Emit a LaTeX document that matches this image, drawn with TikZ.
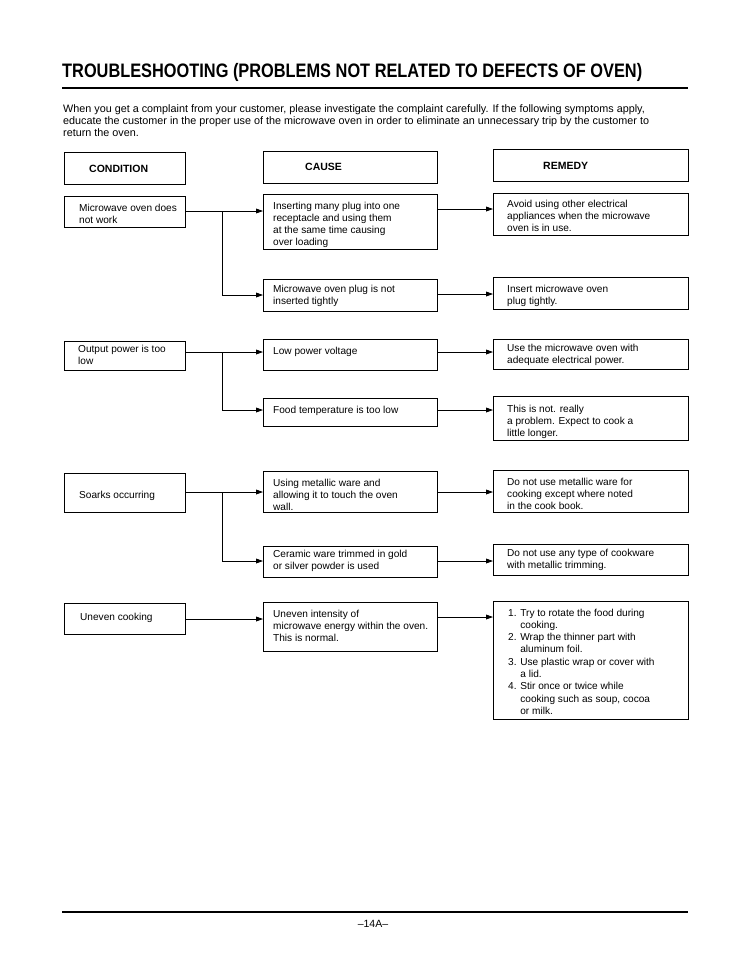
\documentclass[tikz,border=0pt]{standalone}
\usepackage{fontspec}
\usepackage{graphicx}
\setmainfont{Liberation Sans}
\usetikzlibrary{arrows.meta}
\newcommand{\bx}[5]{\node[box, minimum width=#4pt, minimum height=#5pt] (#1) at (#2,#3) {};}
\begin{document}
\begin{tikzpicture}[x=1pt,y=-1pt,
  box/.style={draw, line width=0.9pt, anchor=north west, inner sep=0pt, outer sep=0pt},
  txt/.style={anchor=north west, inner sep=0pt, align=left, font=\fontsize{10.1}{12.3}\selectfont},
  hdr/.style={anchor=west, inner sep=0pt, font=\fontsize{10.5}{12}\selectfont\bfseries},
  conn/.style={line width=0.8pt},
  arr/.style={conn, -{Triangle[length=7pt,width=4.8pt]}}]
\useasboundingbox[fill=white] (0,0) rectangle (750,970);

% title and rules
\node[anchor=base west, inner sep=0pt] (title) at (62,77)
  {\resizebox{580pt}{\height}{\fontsize{19.5}{20}\selectfont\bfseries TROUBLESHOOTING (PROBLEMS NOT RELATED TO DEFECTS OF OVEN)}};
\coordinate (r1a) at (62,88); \coordinate (r1b) at (688,88);
\draw[line width=2pt] (r1a) -- (r1b);
\node[anchor=north west, inner sep=0pt, align=left, font=\fontsize{10.8}{12}\selectfont] (intro) at (63,104)
  {When you get a complaint from your customer, please investigate the complaint carefully. If the following symptoms apply,\\
   educate the customer in the proper use of the microwave oven in order to eliminate an unnecessary trip by the customer to\\
   return the oven.};

% headers
\bx{hcond}{64}{152}{121}{32}
\bx{hcause}{263}{151}{174}{32}
\bx{hrem}{493}{149}{195}{32}
\node[hdr] (hcondt) at (89,169) {CONDITION};
\node[hdr] (hcauset) at (305,167) {CAUSE};
\node[hdr] (hremt) at (543,166) {REMEDY};

% row 1
\bx{cond1}{64}{196}{121}{31}
\bx{cause1}{263}{194}{174}{55}
\bx{rem1}{493}{193}{195}{42}
\bx{cause2}{263}{279}{174}{32}
\bx{rem2}{493}{277}{195}{32}
\node[txt] (cond1t) at (79,203.5) {Microwave oven does\\not work};
\node[txt] (cause1t) at (273,201.5) {Inserting many plug into one\\receptacle and using them\\at the same time causing\\over loading};
\node[txt] (rem1t) at (507,199.5) {Avoid using other electrical\\appliances when the microwave\\oven is in use.};
\node[txt] (cause2t) at (273,284.5) {Microwave oven plug is not\\inserted tightly};
\node[txt] (rem2t) at (507,284.5) {Insert microwave oven\\plug tightly.};

% row 2
\bx{cond2}{64}{341}{121}{29}
\bx{cause3}{263}{339}{174}{31}
\bx{rem3}{493}{339}{195}{30}
\bx{cause4}{263}{398}{174}{28}
\bx{rem4}{493}{396}{195}{44}
\node[txt] (cond2t) at (78,344.5) {Output power is too\\low};
\node[txt] (cause3t) at (273,346.5) {Low power voltage};
\node[txt] (rem3t) at (507,343.5) {Use the microwave oven with\\adequate electrical power.};
\node[txt] (cause4t) at (273,405.5) {Food temperature is too low};
\node[txt] (rem4t) at (507,404.5) {This is not. really\\a problem. Expect to cook a\\little longer.};

% row 3
\bx{cond3}{64}{473}{121}{39}
\bx{cause5}{263}{471}{174}{41}
\bx{rem5}{493}{470}{195}{42}
\bx{cause6}{263}{546}{174}{31}
\bx{rem6}{493}{544}{195}{31}
\node[txt] (cond3t) at (79,490.5) {Soarks occurring};
\node[txt] (cause5t) at (273,478.5) {Using metallic ware and\\allowing it to touch the oven\\wall.};
\node[txt] (rem5t) at (507,477.5) {Do not use metallic ware for\\cooking except where noted\\in the cook book.};
\node[txt] (cause6t) at (273,549.5) {Ceramic ware trimmed in gold\\or silver powder is used};
\node[txt] (rem6t) at (507,548.5) {Do not use any type of cookware\\with metallic trimming.};

% row 4
\bx{cond4}{64}{603}{121}{31}
\bx{cause7}{263}{602}{174}{49}
\bx{rem7}{493}{601}{195}{118}
\node[txt] (cond4t) at (80,612.5) {Uneven cooking};
\node[txt] (cause7t) at (273,609.5) {Uneven intensity of\\microwave energy within the oven.\\This is normal.};
\node[txt] (rem7t) at (508,608.5) {1. Try to rotate the food during\\\phantom{1. }cooking.\\2. Wrap the thinner part with\\\phantom{2. }aluminum foil.\\3. Use plastic wrap or cover with\\\phantom{3. }a lid.\\4. Stir once or twice while\\\phantom{4. }cooking such as soup, cocoa\\\phantom{4. }or milk.};

% connectors row 1
\coordinate (j1) at (222,211);
\draw[conn] (cond1.east |- j1) -- (j1);
\draw[arr] (j1) -- (cause1.west |- j1);
\draw[arr] (j1) |- (cause2.west);
\draw[arr] (cause1.east |- 0,209) -- (rem1.west |- 0,209);
\draw[arr] (cause2.east |- 0,294) -- (rem2.west |- 0,294);

% connectors row 2
\coordinate (j2) at (222,352);
\draw[conn] (cond2.east |- j2) -- (j2);
\draw[arr] (j2) -- (cause3.west |- j2);
\draw[arr] (j2) |- (cause4.west |- 0,410);
\draw[arr] (cause3.east |- 0,352) -- (rem3.west |- 0,352);
\draw[arr] (cause4.east |- 0,410) -- (rem4.west |- 0,410);

% connectors row 3
\coordinate (j3) at (222,492);
\draw[conn] (cond3.east |- j3) -- (j3);
\draw[arr] (j3) -- (cause5.west |- j3);
\draw[arr] (j3) |- (cause6.west |- 0,561);
\draw[arr] (cause5.east |- 0,492) -- (rem5.west |- 0,492);
\draw[arr] (cause6.east |- 0,561) -- (rem6.west |- 0,561);

% connectors row 4
\draw[arr] (cond4.east |- 0,619) -- (cause7.west |- 0,619);
\draw[arr] (cause7.east |- 0,617) -- (rem7.west |- 0,617);

% footer
\coordinate (r2a) at (62,912); \coordinate (r2b) at (688,912);
\draw[line width=1.3pt] (r2a) -- (r2b);
\node[inner sep=0pt, font=\fontsize{10.5}{12}\selectfont] (page) at (373,924) {--14A--};
\end{tikzpicture}
\end{document}
